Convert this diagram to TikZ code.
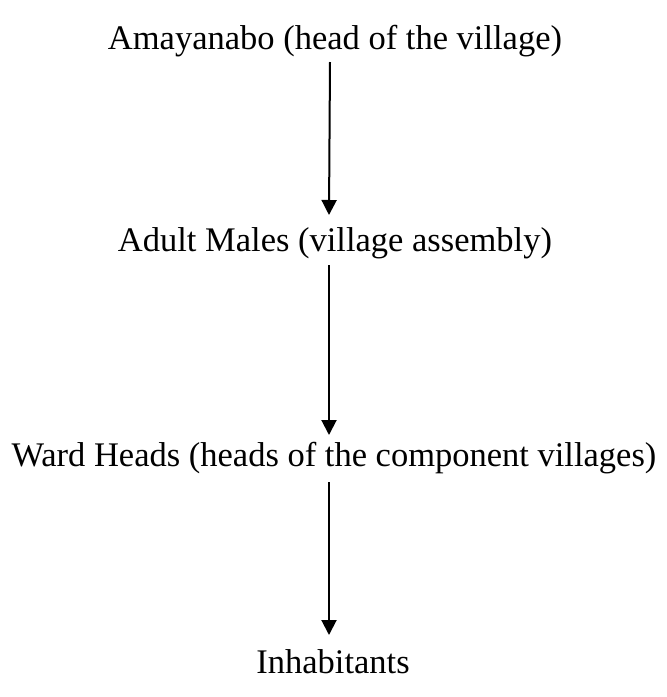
\documentclass[tikz,border=0pt]{standalone}
\usepackage{fontspec}
\setmainfont{Liberation Serif}
\usetikzlibrary{arrows.meta}
\begin{document}
\begin{tikzpicture}[x=1pt,y=-1pt,
  label/.style={anchor=base,inner sep=0pt,font=\fontsize{34.5}{40}\selectfont},
  arr/.style={line width=2pt,-{Triangle[length=15pt,width=15pt]}}]
  \useasboundingbox (0,0) rectangle (667,697);
  \node[label] (amaya) at (335,49) {Amayanabo (head of the village)};
  \node[label] (males) at (335,251) {Adult Males (village assembly)};
  \node[label] (ward)  at (334,466) {Ward Heads (heads of the component villages)};
  \node[label] (inhab) at (333,673) {Inhabitants};
  \draw[arr] ([xshift=-5pt,yshift=-13pt]amaya.base) -- ([xshift=-6pt,yshift=36pt]males.base);
  \draw[arr] ([xshift=-6pt,yshift=-14pt]males.base) -- ([xshift=-5pt,yshift=31pt]ward.base);
  \draw[arr] ([xshift=-5pt,yshift=-16pt]ward.base) -- ([xshift=-4pt,yshift=38pt]inhab.base);
\end{tikzpicture}
\end{document}
